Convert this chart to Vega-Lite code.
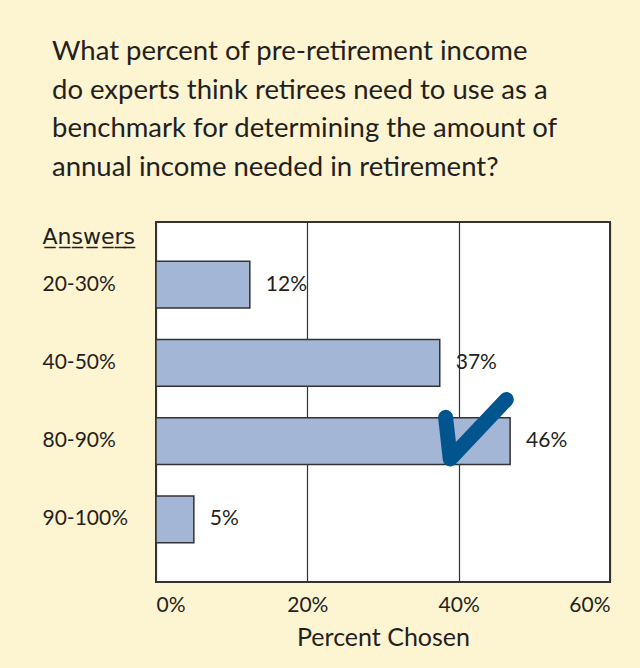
{
  "$schema": "https://vega.github.io/schema/vega-lite/v6.json",
  "width": 454,
  "height": 360,
  "autosize": {"type": "none"},
  "padding": {"left": 156, "top": 222, "right": 30, "bottom": 86},
  "background": "#fdf4d2",
  "title": {
    "text": ["What percent of pre-retirement income", "do experts think retirees need to use as a", "benchmark for determining the amount of", "annual income needed in retirement?"],
    "anchor": "start",
    "frame": "group",
    "dx": -104,
    "offset": 41,
    "fontSize": 27.5,
    "font": "Lato",
    "fontWeight": "normal",
    "color": "#231f20",
    "lineHeight": 38.5
  },
  "config": {
    "view": {"fill": "white", "stroke": "#333333", "strokeWidth": 2},
    "font": "Lato"
  },
  "datasets": {
    "answers": [
      {"answer": "20-30%", "pct": 12.4, "label": "12%"},
      {"answer": "40-50%", "pct": 37.5, "label": "37%"},
      {"answer": "80-90%", "pct": 46.8, "label": "46%"},
      {"answer": "90-100%", "pct": 5, "label": "5%"}
    ],
    "check": [
      {"answer": "80-90%", "pct": 42.2}
    ]
  },
  "layer": [
    {
      "data": {"name": "answers"},
      "mark": {"type": "bar", "fill": "#a3b6d6", "stroke": "#333333", "strokeWidth": 1.5},
      "encoding": {
        "y": {
          "field": "answer", "type": "nominal", "sort": null,
          "scale": {"domain": ["20-30%", "40-50%", "80-90%", "90-100%"], "paddingInner": 0.4, "paddingOuter": 0.5},
          "axis": {
            "title": "A̲n̲s̲w̲e̲r̲s̲",
            "titleAngle": 0, "titleAlign": "left", "titleBaseline": "alphabetic",
            "titleX": -114, "titleY": 21, "titleFont": "DejaVu Sans", "titleFontSize": 22, "titleFontWeight": "normal", "titleColor": "#231f20",
            "domain": false, "ticks": false, "labelAlign": "left", "labelPadding": 114,
            "labelFontSize": 21, "labelColor": "#231f20"
          }
        },
        "x": {
          "field": "pct", "type": "quantitative",
          "scale": {"domain": [0, 60]},
          "axis": {
            "title": "Percent Chosen", "titleFontSize": 25, "titleFontWeight": "normal", "titleColor": "#231f20", "titlePadding": 10,
            "values": [0, 20, 40, 60], "labelExpr": "datum.value + '%'",
            "labelFontSize": 21, "labelColor": "#231f20", "labelPadding": 12,
            "domain": false, "ticks": false,
            "grid": true, "gridColor": "#333333", "gridWidth": 1.2, "gridOpacity": 1
          }
        }
      }
    },
    {
      "data": {"name": "answers"},
      "mark": {"type": "text", "align": "left", "dx": 16, "fontSize": 21, "color": "#231f20"},
      "encoding": {
        "y": {"field": "answer", "type": "nominal", "sort": null},
        "x": {"field": "pct", "type": "quantitative"},
        "text": {"field": "label"}
      }
    },
    {
      "data": {"name": "check"},
      "mark": {
        "type": "point",
        "shape": "M -0.9 -0.72 L -0.76 0.54 L 0.94 -1.26",
        "filled": false, "stroke": "#00558f", "strokeWidth": 15,
        "strokeCap": "round", "strokeJoin": "round", "size": 4356, "opacity": 1
      },
      "encoding": {
        "x": {"field": "pct", "type": "quantitative"},
        "y": {"field": "answer", "type": "nominal", "sort": null}
      }
    }
  ]
}
